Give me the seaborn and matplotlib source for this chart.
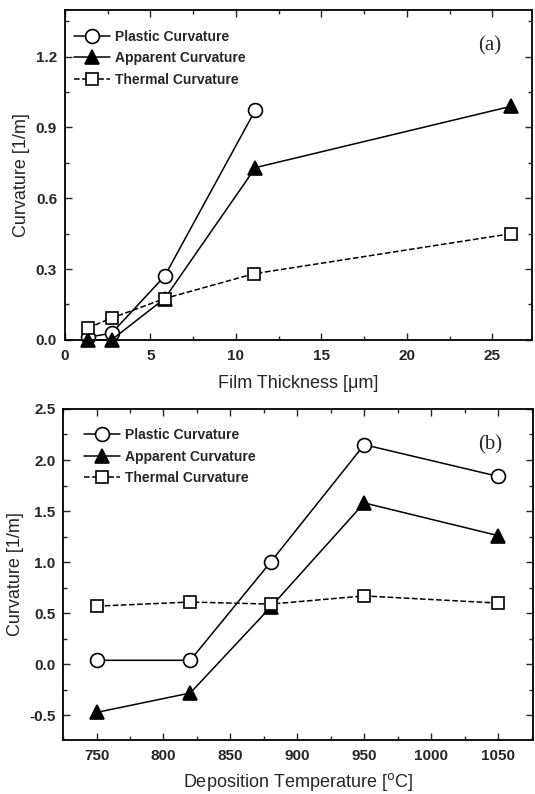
#!/usr/bin/env python3

import matplotlib

matplotlib.use("Agg")
import matplotlib.pylab as plt
import matplotlib.ticker as mticker
import seaborn as sns

sns.set_theme(style="ticks")
plt.rcParams["font.family"] = ["Liberation Sans", "DejaVu Sans"]

# Panel (a): curvature vs film thickness
thick_plastic = [1.34, 2.74, 5.84, 11.15]
plastic_a = [0.011, 0.028, 0.27, 0.975]
thick_apparent = [1.34, 2.74, 5.84, 11.15, 26.1]
apparent_a = [0.0, 0.0, 0.175, 0.73, 0.99]
thick_thermal = [1.34, 2.74, 5.84, 11.05, 26.1]
thermal_a = [0.05, 0.092, 0.175, 0.28, 0.45]

# Panel (b): curvature vs deposition temperature
temps = [750, 820, 880, 950, 1050]
plastic_b = [0.04, 0.04, 1.0, 2.15, 1.84]
apparent_b = [-0.47, -0.28, 0.56, 1.58, 1.26]
thermal_b = [0.57, 0.61, 0.59, 0.67, 0.60]

labels = ["Plastic Curvature", "Apparent Curvature", "Thermal Curvature"]

styles = {
    "Plastic Curvature": dict(marker="o", markerfacecolor="white", markersize=10, linestyle="-"),
    "Apparent Curvature": dict(marker="^", markerfacecolor="black", markersize=10, linestyle="-"),
    "Thermal Curvature": dict(marker="s", markerfacecolor="white", markersize=9, linestyle="--"),
}


def draw_panel(ax, series, tag, legend_anchor):
    for label, (xs, ys) in zip(labels, series):
        kw = styles[label]
        sns.lineplot(
            x=xs,
            y=ys,
            ax=ax,
            color="black",
            markeredgecolor="black",
            markeredgewidth=1.2,
            linewidth=1.1,
            label=label,
            clip_on=False,
            **kw,
        )
    ax.legend(
        loc="upper left",
        bbox_to_anchor=legend_anchor,
        frameon=False,
        handlelength=2.6,
        handletextpad=0.35,
        borderaxespad=0,
        labelspacing=0.55,
        prop={"weight": "bold", "size": 10},
    )
    ax.text(0.91, 0.89, tag, transform=ax.transAxes, ha="center", va="center",
            fontsize=15, family="Liberation Serif")
    ax.tick_params(which="both", direction="in", top=True, right=True,
                   labelsize=11, width=1.0)
    ax.tick_params(axis="x", which="major", pad=6.5)
    ax.tick_params(axis="y", which="major", pad=5.5)
    ax.tick_params(which="major", length=5)
    ax.tick_params(which="minor", length=3)
    for sp in ax.spines.values():
        sp.set_linewidth(1.3)
        sp.set_color("black")


fig = plt.figure(figsize=(5.35, 7.94), dpi=100)
ax1 = fig.add_axes([0.121, 0.572, 0.873, 0.416])
ax2 = fig.add_axes([0.118, 0.068, 0.878, 0.417])

draw_panel(ax1, [(thick_plastic, plastic_a), (thick_apparent, apparent_a),
                 (thick_thermal, thermal_a)], "(a)", (0.007, 0.956))
ax1.set_xlim(0, 27.3)
ax1.set_ylim(0, 1.4)
ax1.xaxis.set_major_locator(mticker.MultipleLocator(5))
ax1.xaxis.set_minor_locator(mticker.MultipleLocator(2.5))
ax1.yaxis.set_major_locator(mticker.MultipleLocator(0.3))
ax1.yaxis.set_minor_locator(mticker.MultipleLocator(0.15))
ax1.yaxis.set_major_formatter(mticker.FormatStrFormatter("%.1f"))
ax1.set_xlabel("Film Thickness [\u03bcm]", fontsize=13, labelpad=9)
ax1.set_ylabel("Curvature [1/m]", fontsize=13)
for lab in ax1.get_xticklabels() + ax1.get_yticklabels():
    lab.set_fontweight("bold")

draw_panel(ax2, [(temps, plastic_b), (temps, apparent_b), (temps, thermal_b)],
           "(b)", (0.033, 0.959))
ax2.set_xlim(725, 1076)
ax2.set_ylim(-0.74, 2.5)
ax2.xaxis.set_major_locator(mticker.MultipleLocator(50))
ax2.xaxis.set_minor_locator(mticker.MultipleLocator(25))
ax2.yaxis.set_major_locator(mticker.MultipleLocator(0.5))
ax2.yaxis.set_minor_locator(mticker.MultipleLocator(0.25))
ax2.yaxis.set_major_formatter(mticker.FormatStrFormatter("%.1f"))
ax2.set_xlabel("Deposition Temperature [$^{\\rm o}$C]", fontsize=13, labelpad=6)
ax2.set_ylabel("Curvature [1/m]", fontsize=13)
for lab in ax2.get_xticklabels() + ax2.get_yticklabels():
    lab.set_fontweight("bold")

plt.savefig("out.png", dpi=100)
